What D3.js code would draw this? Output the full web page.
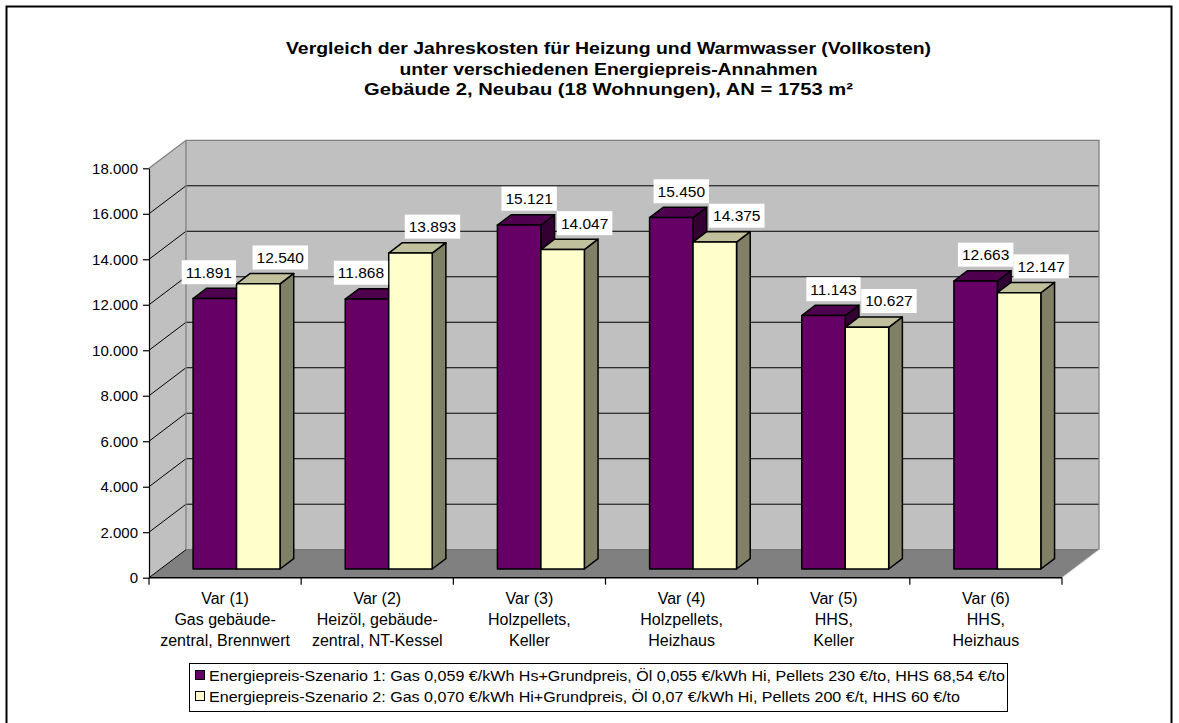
<!DOCTYPE html>
<html><head><meta charset="utf-8">
<script src="https://cdn.jsdelivr.net/npm/d3@7"></script>
<style>
html,body{margin:0;padding:0;background:#fff;}
svg text{font-family:Arial,"Liberation Sans",sans-serif;}
</style></head>
<body>
<svg id="chart" width="1179" height="723"></svg>
<script>
// ---- data ----
const titleLines = [
  "Vergleich der Jahreskosten für Heizung und Warmwasser (Vollkosten)",
  "unter verschiedenen Energiepreis-Annahmen",
  "Gebäude 2, Neubau (18 Wohnungen), AN = 1753 m²"
];
const categories = ["Var (1)","Var (2)","Var (3)","Var (4)","Var (5)","Var (6)"];
const categoryLabels = [
  ["Var (1)","Gas gebäude-","zentral, Brennwert"],
  ["Var (2)","Heizöl, gebäude-","zentral, NT-Kessel"],
  ["Var (3)","Holzpellets,","Keller"],
  ["Var (4)","Holzpellets,","Heizhaus"],
  ["Var (5)","HHS,","Keller"],
  ["Var (6)","HHS,","Heizhaus"]
];
const scenario1 = [11891, 11868, 15121, 15450, 11143, 12663];
const scenario2 = [12540, 13893, 14047, 14375, 10627, 12147];
const seriesNames = [
  "Energiepreis-Szenario 1: Gas 0,059 €/kWh Hs+Grundpreis, Öl 0,055 €/kWh Hi, Pellets 230 €/to, HHS 68,54 €/to",
  "Energiepreis-Szenario 2: Gas 0,070 €/kWh Hi+Grundpreis, Öl 0,07 €/kWh Hi, Pellets 200 €/t, HHS 60 €/to"
];
const yTicks = [0,2000,4000,6000,8000,10000,12000,14000,16000,18000];

// ---- styles / layout ----
const colors = [
  {front:"#660066", top:"#4f004f", side:"#330033"},
  {front:"#FFFFCC", top:"#C0C09C", side:"#808066"}
];
const svg = d3.select("#chart");
const X0 = 149, X1 = 1062, Y0 = 577.7, YT = 168.3;
const DX = 37, DY = 28;           // depth projection of the full wall
const d0 = 0.31, d1 = 0.68;        // bar depth range (fraction of wall depth)

const de = d3.formatLocale({decimal:",", thousands:".", grouping:[3], currency:["","€"]});
const fmt = de.format(",.0f");

const x = d3.scaleBand().domain(categories).range([X0, X1]).paddingInner(0).paddingOuter(0);
const xs = d3.scaleBand().domain([0,1]).range([0, x.bandwidth()]).paddingInner(0).paddingOuter(0.75);
const y = d3.scaleLinear().domain([0,18000]).range([Y0, YT]);

// outer frame
svg.append("rect").attr("x",6.5).attr("y",6.5).attr("width",1165).attr("height",730)
  .attr("fill","#fff").attr("stroke","#000").attr("stroke-width",2);

// title
const titleWidths = [645, 418, 489];
titleLines.forEach((l,i)=>{
  svg.append("text").attr("text-anchor","middle").attr("font-weight","bold")
    .attr("font-size",16).attr("fill","#000")
    .attr("x",608.5).attr("y",54 + i*20.5)
    .attr("textLength",titleWidths[i]).attr("lengthAdjust","spacingAndGlyphs")
    .text(l);
});

// walls
const g = svg.append("g");
const P = (px,py)=>px+","+py;
g.append("polygon").attr("points",[P(X0,Y0),P(X0,YT),P(X0+DX,YT-DY),P(X0+DX,Y0-DY)].join(" "))
  .attr("fill","#C0C0C0").attr("stroke","none");
g.append("polygon").attr("points",[P(X0+DX,YT-DY),P(X1+DX,YT-DY),P(X1+DX,Y0-DY),P(X0+DX,Y0-DY)].join(" "))
  .attr("fill","#C0C0C0").attr("stroke","none");
g.append("polygon").attr("points",[P(X0,Y0),P(X1,Y0),P(X1+DX,Y0-DY),P(X0+DX,Y0-DY)].join(" "))
  .attr("fill","#808080").attr("stroke","none");

// gridlines
yTicks.filter(v=>v>0 && v<18000).forEach(v=>{
  const yy = y(v);
  g.append("line").attr("x1",X0).attr("y1",yy).attr("x2",X0+DX).attr("y2",yy-DY)
    .attr("stroke","#000").attr("stroke-width",1);
  g.append("line").attr("x1",X0+DX).attr("y1",yy-DY).attr("x2",X1+DX).attr("y2",yy-DY)
    .attr("stroke","#000").attr("stroke-width",1);
});
// wall edges
const edge = "#808080";
g.append("polyline").attr("points",[P(X0,YT),P(X0+DX,YT-DY),P(X1+DX,YT-DY),P(X1+DX,Y0-DY)].join(" "))
  .attr("fill","none").attr("stroke",edge).attr("stroke-width",1.3);
g.append("line").attr("x1",X0+DX).attr("y1",YT-DY).attr("x2",X0+DX).attr("y2",Y0-DY)
  .attr("stroke",edge).attr("stroke-width",1.3);
g.append("line").attr("x1",X0).attr("y1",Y0).attr("x2",X0+DX).attr("y2",Y0-DY)
  .attr("stroke","#000").attr("stroke-width",1);
g.append("line").attr("x1",X0+DX).attr("y1",Y0-DY).attr("x2",X1+DX).attr("y2",Y0-DY)
  .attr("stroke","#6a6a6a").attr("stroke-width",1);
g.append("line").attr("x1",X1).attr("y1",Y0).attr("x2",X1+DX).attr("y2",Y0-DY)
  .attr("stroke","#d8d8d8").attr("stroke-width",1);

// y axis
const yAxis = d3.axisLeft(y).tickValues(yTicks).tickFormat(fmt).tickSizeInner(6).tickSizeOuter(0).tickPadding(5);
const ya = svg.append("g").attr("transform",`translate(${X0},0)`).call(yAxis);
ya.select(".domain").attr("stroke","#000").attr("stroke-width",1.2);
ya.selectAll(".tick line").attr("stroke","#000").attr("stroke-width",1.2);
ya.selectAll(".tick text").attr("font-size",15).attr("fill","#000")
  .attr("font-family","Arial, 'Liberation Sans', sans-serif");

// x axis line + ticks
svg.append("line").attr("x1",X0).attr("y1",Y0).attr("x2",X1).attr("y2",Y0)
  .attr("stroke","#000").attr("stroke-width",1.5);
const bounds = categories.map(c=>x(c)).concat([X1]);
bounds.forEach(bx=>{
  svg.append("line").attr("x1",bx).attr("y1",Y0).attr("x2",bx).attr("y2",Y0+7)
    .attr("stroke","#000").attr("stroke-width",1.2);
});
categories.forEach((c,i)=>{
  const tx = svg.append("text").attr("text-anchor","middle").attr("font-size",16).attr("fill","#000");
  categoryLabels[i].forEach((l,j)=>{
    tx.append("tspan").attr("x",x(c)+x.bandwidth()/2).attr("y",603.5 + j*21).text(l);
  });
});

// bars
const series = [scenario1, scenario2];
const bw = xs.bandwidth();
const bdx = (d1-d0)*DX, bdy = (d1-d0)*DY;
const barsG = svg.append("g");
categories.forEach((c,i)=>{
  [0,1].forEach(s=>{
    const v = series[s][i];
    const fx = x(c) + xs(s) + d0*DX;
    const fyb = y(0) - d0*DY;
    const fyt = y(v) - d0*DY;
    const col = colors[s];
    const bg = barsG.append("g").attr("stroke","#000").attr("stroke-width",1.5).attr("stroke-linejoin","round");
    bg.append("polygon").attr("points",[P(fx+bw,fyb),P(fx+bw,fyt),P(fx+bw+bdx,fyt-bdy),P(fx+bw+bdx,fyb-bdy)].join(" "))
      .attr("fill",col.side);
    bg.append("polygon").attr("points",[P(fx,fyt),P(fx+bw,fyt),P(fx+bw+bdx,fyt-bdy),P(fx+bdx,fyt-bdy)].join(" "))
      .attr("fill",col.top);
    bg.append("rect").attr("x",fx).attr("y",fyt).attr("width",bw).attr("height",fyb-fyt)
      .attr("fill",col.front);
  });
});

// data labels
const labG = svg.append("g");
categories.forEach((c,i)=>{
  [0,1].forEach(s=>{
    const v = series[s][i];
    const fx = x(c) + xs(s) + d0*DX;
    let off = s===1 ? 22 : (scenario2[i] > scenario1[i] ? -6 : 10);
    const cx = fx + bw/2 + off;
    const cy = y(v) - d0*DY - bdy - 16;
    const tt = labG.append("text").attr("x",cx).attr("y",cy+5.5).attr("text-anchor","middle")
      .attr("font-size",15.5).attr("fill","#000").text(fmt(v));
    const w = tt.node().getComputedTextLength();
    labG.insert("rect","text").attr("x",cx-w/2-4).attr("y",cy-12).attr("width",w+8).attr("height",24)
      .attr("fill","#fff");
  });
});

// legend
const legendWidths = [796, 751];
const lg = svg.append("g");
lg.append("rect").attr("x",189.5).attr("y",663.5).attr("width",818).attr("height",48)
  .attr("fill","#fff").attr("stroke","#000").attr("stroke-width",1);
seriesNames.forEach((n,i)=>{
  const yy = 670 + i*21;
  lg.append("rect").attr("x",195.5).attr("y",yy+0.5).attr("width",9).attr("height",9)
    .attr("fill",colors[i].front).attr("stroke","#000").attr("stroke-width",1);
  lg.append("text").attr("x",209).attr("y",yy+10.5).attr("font-size",14.5).attr("fill","#000")
    .attr("textLength",legendWidths[i]).attr("lengthAdjust","spacingAndGlyphs").text(n);
});
</script>
</body></html>
